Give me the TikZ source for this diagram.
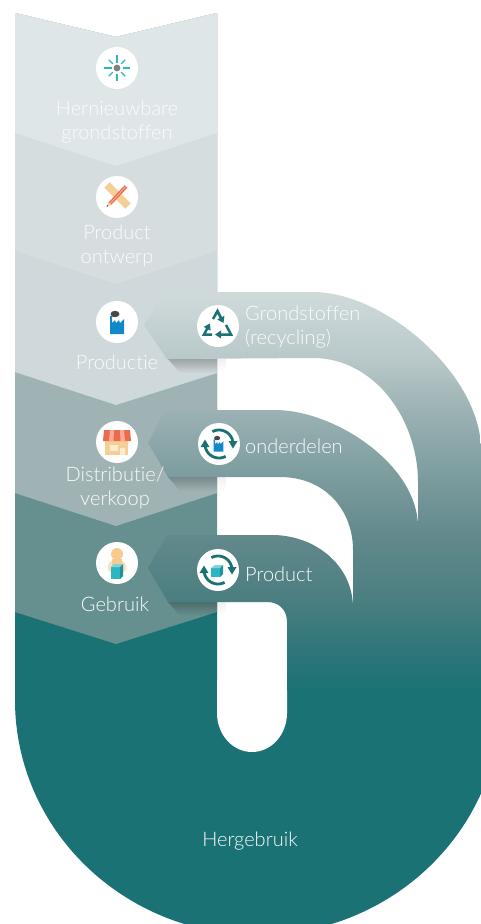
\documentclass[tikz,border=0pt]{standalone}
\usepackage{fontspec}
\setmainfont{Lato Light}[Ligatures=NoCommon]
\usetikzlibrary{arrows.meta,fadings}
\definecolor{cA}{HTML}{DFE6E7}
\definecolor{cB}{HTML}{D6DDDF}
\definecolor{cC}{HTML}{CFD8DA}
\definecolor{cD}{HTML}{9FB3B5}
\definecolor{cE}{HTML}{66908F}
\definecolor{teal}{HTML}{1B7274}
\definecolor{txt}{HTML}{FAFCFC}
\definecolor{fblue}{HTML}{1388C8}
\definecolor{smoke}{HTML}{4A4646}
\definecolor{cyan}{HTML}{2CB5C3}
\definecolor{peach}{HTML}{F6CF96}
\definecolor{redd}{HTML}{EC6A4E}
\definecolor{redl}{HTML}{F6AD94}
\definecolor{cream}{HTML}{FBEBCF}
\definecolor{skin}{HTML}{F7CB90}
\definecolor{skinl}{HTML}{FADFB8}
\definecolor{b1}{HTML}{D0DADB}
\definecolor{b2}{HTML}{B8C8C9}
\definecolor{b3}{HTML}{9CB2B4}
\definecolor{b4}{HTML}{7B9C9E}
\definecolor{b5}{HTML}{63898C}
\definecolor{b6}{HTML}{4A7E80}
\definecolor{b7}{HTML}{2F7679}
\pgfdeclareverticalshading{bandshade}{100bp}{color(0bp)=(teal); color(25bp)=(teal); color(30.03bp)=(b7); color(36.06bp)=(b6); color(44.47bp)=(b5); color(51.76bp)=(b4); color(60.18bp)=(b3); color(66.46bp)=(b2); color(75bp)=(b1); color(100bp)=(b1)}
\tikzfading[name=shfade,top color=transparent!0,bottom color=transparent!100]
\tikzset{
  x=1pt,y=-1pt,
  disc/.style={circle,fill=white,draw=none,minimum size=42pt,inner sep=0pt},
  lab/.style={text=txt,font=\fontsize{20}{24}\selectfont,align=center,inner sep=0pt},
  labl/.style={lab,anchor=west,align=left},
  cyc/.style={draw=teal,line width=2.8pt},
  rec/.style={draw=teal,line width=2.5pt,line join=miter,-{Triangle[length=6pt,width=7.5pt]}},
  ray/.style={draw=cyan,line width=1.4pt},
  shad/.style={fill=black,path fading=shfade}
}
\newcommand{\factory}{%
  \fill[fblue] (-7,-6) -- (-5,-6) -- (-5,1) -- (-2,-2) -- (-1,1) -- (2,-2) -- (3,1) -- (7,-3) -- (7,12) -- (-7,12) -- cycle;
  \fill[smoke] (-2,-8) ellipse (4.5 and 3.2);
  \fill[smoke] (-5,-6) -- (-2,-8) -- (-3,-5) -- cycle;
}
\newcommand{\cycle}{%
  \draw[cyc] plot[domain=-118:-10,samples=24] ({14*cos(\x)},{14*sin(\x)});
  \fill[teal] (9.5,-3) -- (18.5,-3) -- (14,4.5) -- cycle;
  \draw[cyc] plot[domain=62:170,samples=24] ({14*cos(\x)},{14*sin(\x)});
  \fill[teal] (-9.5,3) -- (-18.5,3) -- (-14,-4.5) -- cycle;
}
\begin{document}
\begin{tikzpicture}
\useasboundingbox (0,0) rectangle (481,924);
\clip (0,0) rectangle (481,924);
% base
\fill[teal] (15,600) -- (15,700) .. controls (15,830) and (124,935) .. (258,935)
  .. controls (392,935) and (501,830) .. (501,700) -- (481,690) -- (217,690) -- (217,600) -- cycle;
% slot
\fill[white] (217,680) -- (287,680) -- (287,713) .. controls (287,735) and (271,752) .. (252,752)
  .. controls (233,752) and (217,735) .. (217,713) -- cycle;
% chevrons
\fill[cE] (15,13) -- (116,37) -- (217,13) -- (217,612) -- (116,644) -- (15,612) -- cycle;
\fill[cD] (15,13) -- (116,37) -- (217,13) -- (217,493) -- (116,526) -- (15,493) -- cycle;
\fill[cC] (15,13) -- (116,37) -- (217,13) -- (217,373) -- (116,405) -- (15,372) -- cycle;
\fill[cB] (15,13) -- (116,37) -- (217,13) -- (217,251) -- (116,284) -- (15,251) -- cycle;
\fill[cA] (15,13) -- (116,37) -- (217,13) -- (217,133) -- (116,166) -- (15,133) -- cycle;
% shadows
\fill[shad,opacity=.24] (168,359) -- (217,359) -- (217,373) -- (180,373) -- cycle;
\fill[shad,opacity=.06] (217,359) rectangle (226,371);
\fill[shad,opacity=.24] (168,477) -- (217,477) -- (217,491) -- (180,491) -- cycle;
\fill[shad,opacity=.06] (217,477) rectangle (226,489);
\fill[shad,opacity=.24] (168,602) -- (217,602) -- (217,616) -- (180,616) -- cycle;
\fill[shad,opacity=.06] (217,602) rectangle (226,614);
% return bands
\shade[shading=bandshade]
  (144,325) -- (165,292) -- (313,292) .. controls (385,292) and (481,375) .. (481,450)
  -- (481,690) -- (287,690) -- (287,622) .. controls (287,610) and (279,602) .. (267,602)
  -- (168,602) -- (148,568) -- (167,535) -- (272,535)
  .. controls (315,535) and (353,565) .. (353,608) -- (353,550)
  .. controls (353,510) and (325,477) .. (280,477) -- (168,477) -- (148,443) -- (165,410)
  -- (275,410) .. controls (335,410) and (418,465) .. (418,527) -- (418,482)
  .. controls (418,420) and (375,358) .. (313,358) -- (167,359) -- cycle;
% discs
\node[disc] (d1) at (117,68) {};
\node[disc] (d2) at (117,197) {};
\node[disc] (d3) at (117,322) {};
\node[disc] (d4) at (117,442) {};
\node[disc] (d5) at (117,563) {};
\node[disc] (r1) at (218,326) {};
\node[disc] (r2) at (219,444) {};
\node[disc] (r3) at (218,570) {};
% sun
\begin{scope}[shift={(117,68)}]
  \fill[black!50] (0,0) circle (3.4);
  \foreach \a in {0,90,180,270} \draw[ray] ({5.5*cos(\a)},{5.5*sin(\a)}) -- ({13*cos(\a)},{13*sin(\a)});
  \foreach \a in {45,135,225,315} \draw[ray] ({6*cos(\a)},{6*sin(\a)}) -- ({11.5*cos(\a)},{11.5*sin(\a)});
\end{scope}
% ruler and pencil
\begin{scope}[shift={(117,197)}]
  \draw[peach,line width=7.5pt] (-10,-12) -- (11,9);
  \draw[redd,line width=3.6pt] (9,-10.5) -- (-7,6.5);
  \draw[redl,line width=.9pt] (9,-10.5) -- (-7,6.5);
  \fill[peach] (-8.5,5) -- (-5.5,8) -- (-10.5,10) -- cycle;
  \fill[smoke] (-9.6,8) -- (-8.6,9) -- (-10.5,10) -- cycle;
\end{scope}
% factory
\begin{scope}[shift={(117,322)}] \factory \end{scope}
% shop
\begin{scope}[shift={(117,442)}]
  \fill[peach] (-12,-2) rectangle (11,13);
  \fill[cream] (-7,3) rectangle (1,9);
  \fill[cream] (3,6) rectangle (8,13);
  \fill[redd] (-13,-12) -- (13,-12) -- (14,-1) -- (-14,-1) -- cycle;
  \fill[redl] (-7,-12) -- (-3,-12) -- (-3.5,-1) -- (-8,-1) -- cycle;
  \fill[redl] (3,-12) -- (7,-12) -- (8,-1) -- (3.5,-1) -- cycle;
\end{scope}
% user
\begin{scope}[shift={(117,563)}]
  \fill[skinl,rounded corners=3pt] (-9,1) -- (-5,-3) -- (5,-3) -- (9,1) -- (9,9) -- (-9,9) -- cycle;
  \fill[skin] (0,-9) circle (6);
  \fill[skin] (-5,-4) rectangle (5,4);
  \fill[cyan] (-6,4) rectangle (3,16);
  \fill[cyan!60!white] (-6,4) -- (-3,1) -- (6,1) -- (3,4) -- cycle;
  \fill[cyan!80!black] (3,4) -- (6,1) -- (6,13) -- (3,16) -- cycle;
\end{scope}
% recycling
\begin{scope}[shift={(218,326)}]
  \draw[rec] (-5,-7) -- (-.5,-15) -- (5.5,-3);
  \draw[rec] (8,-1) -- (13,8.5) -- (-3,8.5);
  \draw[rec] (-6,8.5) -- (-14,8.5) -- (-8,-2.5);
\end{scope}
% factory cycle
\begin{scope}[shift={(219,444)}]
  \cycle
  \begin{scope}[shift={(-.5,-.5)},scale=.68] \factory \end{scope}
\end{scope}
% product cycle
\begin{scope}[shift={(218,570)}]
  \cycle
  \fill[cyan] (-7,-2) rectangle (2,7);
  \fill[cyan!60!white] (-7,-2) -- (-3,-5) -- (5,-5) -- (2,-2) -- cycle;
  \fill[cyan!80!black] (2,-2) -- (5,-5) -- (5,4) -- (2,7) -- cycle;
\end{scope}
% labels
\node[lab] (t1) at (117,122) {Hernieuwbare\\grondstoffen};
\node[lab] (t2) at (117,246) {Product\\ontwerp};
\node[lab] (t3) at (117,362) {Productie};
\node[lab] (t4) at (115,488) {Distributie/\\verkoop};
\node[lab] (t5) at (115,604) {Gebruik};
\node[labl] (u1) at (245,327) {Grondstoffen\\(recycling)};
\node[labl] (u2) at (245,446) {onderdelen};
\node[labl] (u3) at (245,574) {Product};
\node[lab] (u4) at (250,841) {Hergebruik};
\end{tikzpicture}
\end{document}
